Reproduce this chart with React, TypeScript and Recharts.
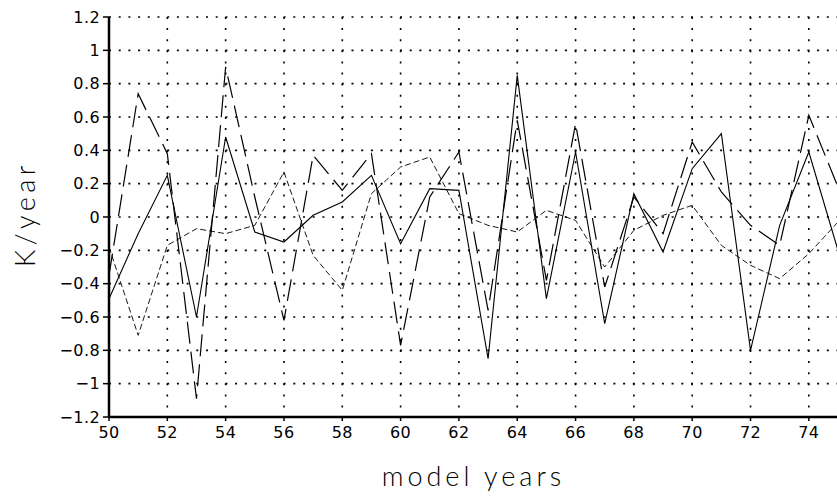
import { LineChart, Line, XAxis, YAxis, CartesianGrid, Label } from 'recharts';

// model years on the x axis
const years = [50, 51, 52, 53, 54, 55, 56, 57, 58, 59, 60, 61, 62, 63, 64, 65, 66, 67, 68, 69, 70, 71, 72, 73, 74, 75];

// K/year, one value per year
const solidSeries = [-0.49, -0.1, 0.25, -0.6, 0.48, -0.09, -0.15, 0.01, 0.09, 0.25, -0.16, 0.17, 0.16, -0.85, 0.85, -0.49, 0.39, -0.64, 0.14, -0.21, 0.29, 0.5, -0.8, -0.05, 0.39, -0.2];
const longDashSeries = [-0.35, 0.74, 0.38, -1.09, 0.9, 0.12, -0.62, 0.37, 0.16, 0.38, -0.77, 0.12, 0.39, -0.56, 0.58, -0.38, 0.56, -0.42, 0.12, -0.1, 0.45, 0.15, -0.05, -0.17, 0.61, 0.18];
const shortDashSeries = [-0.18, -0.71, -0.17, -0.07, -0.1, -0.05, 0.27, -0.23, -0.44, 0.14, 0.3, 0.36, 0.02, -0.05, -0.09, 0.04, -0.02, -0.3, -0.08, 0.01, 0.07, -0.17, -0.29, -0.37, -0.22, -0.03];

const yearTicks = [50, 52, 54, 56, 58, 60, 62, 64, 66, 68, 70, 72, 74];
const kTicks = [-1.2, -1, -0.8, -0.6, -0.4, -0.2, 0, 0.2, 0.4, 0.6, 0.8, 1, 1.2];

const rows = years.map((year, i) => ({
  year,
  solid: solidSeries[i],
  longDash: longDashSeries[i],
  shortDash: shortDashSeries[i],
}));

const tickFont = { fontFamily: '"DejaVu Sans", sans-serif', fontSize: 16, fill: '#000', letterSpacing: 0.4 };
const titleFont = { fontFamily: 'Lato, sans-serif', fontWeight: 300, fontSize: 27, fill: '#000' };

const formatK = (v: number) => String(Math.round(v * 10) / 10).replace('-', '\u2212');

function YTitle(props: any) {
  const vb = props.viewBox || { y: 17, height: 400 };
  const cy = vb.y + vb.height / 2;
  return (
    <text transform={`translate(35, ${cy - 3}) rotate(-90)`} textAnchor="middle" letterSpacing={4.5} {...titleFont}>
      K/year
    </text>
  );
}

function XTitle(props: any) {
  const vb = props.viewBox || { x: 109, width: 729 };
  const cx = vb.x + vb.width / 2;
  return (
    <text x={cx} y={486} textAnchor="middle" letterSpacing={4} {...titleFont}>
      model years
    </text>
  );
}

export default function App() {
  return (
    <div style={{ position: 'absolute', left: 0, top: 0, width: 837, height: 500, overflow: 'hidden', background: '#fff' }}>
      <LineChart width={840} height={500} data={rows} margin={{ top: 17, right: 2, bottom: 53, left: 0 }}>
        <CartesianGrid horizontal vertical={false} stroke="#000" strokeWidth={1.6} strokeDasharray="2 7.7" />
        <CartesianGrid horizontal={false} vertical stroke="#000" strokeWidth={1.6} strokeDasharray="2 9.1" />
        <XAxis
          dataKey="year"
          type="number"
          domain={[50, 75]}
          ticks={yearTicks}
          interval={0}
          height={30}
          tick={tickFont}
          tickSize={4}
          tickMargin={6}
          tickLine={{ stroke: '#000', strokeWidth: 1.5 }}
          axisLine={{ stroke: '#000', strokeWidth: 2.5 }}
        >
          <Label content={XTitle} />
        </XAxis>
        <XAxis
          xAxisId="top"
          orientation="top"
          dataKey="year"
          type="number"
          domain={[50, 75]}
          height={0}
          tick={false}
          tickLine={false}
          axisLine={{ stroke: '#000', strokeWidth: 2.5 }}
        />
        <YAxis
          type="number"
          domain={[-1.2, 1.2]}
          ticks={kTicks}
          interval={0}
          width={109}
          tick={tickFont}
          tickFormatter={formatK}
          tickSize={6}
          tickMargin={3}
          tickLine={{ stroke: '#000', strokeWidth: 1.5 }}
          axisLine={{ stroke: '#000', strokeWidth: 2.5 }}
        >
          <Label content={YTitle} />
        </YAxis>
        <Line type="linear" dataKey="shortDash" stroke="#000" strokeWidth={0.9} strokeDasharray="6 3" dot={false} isAnimationActive={false} />
        <Line type="linear" dataKey="longDash" stroke="#000" strokeWidth={1.2} strokeDasharray="22 8" dot={false} isAnimationActive={false} />
        <Line type="linear" dataKey="solid" stroke="#000" strokeWidth={1.1} dot={false} isAnimationActive={false} />
      </LineChart>
    </div>
  );
}
